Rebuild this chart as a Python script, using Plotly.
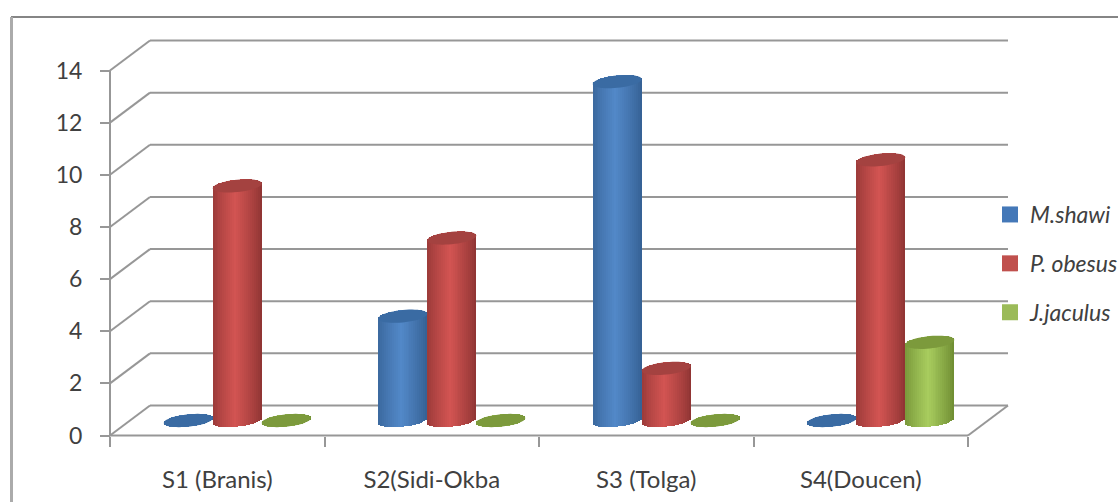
import math
import plotly.graph_objects as go

# Rodent counts per site
sites = ["S1 (Branis)", "S2(Sidi-Okba", "S3 (Tolga)", "S4(Doucen)"]
m_shawi = [0, 4, 13, 0]
p_obesus = [9, 7, 2, 10]
j_jaculus = [0, 0, 0, 3]
y_ticks = [0, 2, 4, 6, 8, 10, 12, 14]

series = [
    ("M.shawi", m_shawi, "#4478b8", (0x34, 0x5f, 0x92), (0x52, 0x88, 0xc8), "#3a6ba3"),
    ("P. obesus", p_obesus, "#c0504d", (0x8c, 0x33, 0x32), (0xd2, 0x54, 0x52), "#a44240"),
    ("J.jaculus", j_jaculus, "#9bbb59", (0x6c, 0x8a, 0x30), (0xa8, 0xcc, 0x5e), "#7c9a3c"),
]

# Pseudo-3D geometry, in axis units
PX_X, PX_Y = 214.5, 26.07
DEPTH_X, DEPTH_Y = 40 / PX_X, 30 / PX_Y
BAR_W = 49 / PX_X
CAP_B = 6.2 / PX_Y
CAP_TILT = 2.4 / PX_Y
STRIPS = 25
GRID = "#979797"
TEXT = "#404040"
FONT = "Lato"


def mix(c0, c1, t):
    return "rgb(%d,%d,%d)" % tuple(round(a + (b - a) * t) for a, b in zip(c0, c1))


def cap_path(cx, cy):
    pts = []
    for i in range(48):
        th = 2 * math.pi * i / 48
        c, s = math.cos(th), math.sin(th)
        pts.append((cx + BAR_W / 2 * c, cy + CAP_B * s + CAP_TILT * c))
    return "M" + "L".join(f"{x:.4f},{y:.4f}" for x, y in pts) + "Z"


fig = go.Figure()
shapes = []

# Back wall gridlines and their side-wall diagonals
x_left, x_right = -0.5, len(sites) - 0.5
for v in y_ticks:
    shapes.append(dict(type="line", layer="below", xref="x", yref="y",
                       x0=x_left, y0=v, x1=x_left + DEPTH_X, y1=v + DEPTH_Y,
                       line=dict(color=GRID, width=2)))
    shapes.append(dict(type="line", layer="below", xref="x", yref="y",
                       x0=x_left + DEPTH_X, y0=v + DEPTH_Y, x1=x_right + DEPTH_X, y1=v + DEPTH_Y,
                       line=dict(color=GRID, width=2)))

# Floor front edge, right edge and vertical axis line
shapes.append(dict(type="line", layer="below", xref="x", yref="y",
                   x0=x_left, y0=0, x1=x_right, y1=0, line=dict(color=GRID, width=2)))
shapes.append(dict(type="line", layer="below", xref="x", yref="y",
                   x0=x_right, y0=0, x1=x_right + DEPTH_X, y1=DEPTH_Y, line=dict(color=GRID, width=2)))
shapes.append(dict(type="line", layer="below", xref="x", yref="y",
                   x0=x_left, y0=0, x1=x_left, y1=y_ticks[-1], line=dict(color=GRID, width=2)))

# Outer chart frame
shapes.append(dict(type="line", xref="paper", yref="paper", layer="below",
                   x0=11 / 1118, x1=1, y0=1 - 17 / 502, y1=1 - 17 / 502,
                   line=dict(color="#858585", width=2)))
shapes.append(dict(type="line", xref="paper", yref="paper", layer="below",
                   x0=11.5 / 1118, x1=11.5 / 1118, y0=0, y1=1 - 17 / 502,
                   line=dict(color="#ababab", width=3)))

# Each cylinder is a row of narrow shaded bars closed by an elliptical cap
strip_w = BAR_W / STRIPS
for s_idx, (name, vals, swatch, edge, mid, cap) in enumerate(series):
    for k in range(STRIPS):
        u = -1 + (2 * k + 1) / STRIPS
        arc = math.sqrt(max(0.0, 1 - u * u))
        t = max(0.0, 1 - abs(u + 0.08) / 1.08) ** 0.8
        xs, bases, heights = [], [], []
        for c_idx, v in enumerate(vals):
            cx = c_idx + DEPTH_X / 2 + (s_idx - 1) * BAR_W
            floor_y = DEPTH_Y / 2 + CAP_TILT * u
            xs.append(cx + u * BAR_W / 2)
            bases.append(floor_y - CAP_B * arc)
            heights.append(v + 2 * CAP_B * arc)
        fig.add_trace(go.Bar(x=xs, y=heights, base=bases, width=strip_w * 1.15,
                             marker=dict(color=mix(edge, mid, t), line=dict(width=0)),
                             showlegend=False, hoverinfo="skip"))
    for c_idx, v in enumerate(vals):
        cx = c_idx + DEPTH_X / 2 + (s_idx - 1) * BAR_W
        shapes.append(dict(type="path", layer="above", xref="x", yref="y",
                           path=cap_path(cx, DEPTH_Y / 2 + v),
                           fillcolor=cap, line=dict(width=0)))

# Legend entries
for name, vals, swatch, edge, mid, cap in series:
    fig.add_trace(go.Scatter(x=[None], y=[None], mode="markers", name=name, legendgroup=name,
                             marker=dict(symbol="square", size=16, color=swatch)))

fig.update_layout(
    width=1118, height=502,
    margin=dict(l=0, r=0, t=0, b=0, autoexpand=False),
    paper_bgcolor="white", plot_bgcolor="white",
    barmode="overlay", bargap=0,
    shapes=shapes,
    showlegend=True,
    legend=dict(x=(1010 - 20) / 1118, y=1 - 193 / 502, xanchor="left", yanchor="top",
                font=dict(family=FONT, size=23, color=TEXT, style="italic"),
                itemsizing="trace", tracegroupgap=16, bgcolor="rgba(0,0,0,0)",
                borderwidth=0),
    xaxis=dict(type="linear",
               range=[-217.25 / PX_X, (1118 - 217.25) / PX_X],
               domain=[0, 1], anchor="free", position=66 / 502,
               showgrid=False, zeroline=False, showline=False,
               tickmode="array", tickvals=list(range(len(sites))), ticktext=sites,
               ticks="", ticklabelstandoff=27,
               tickfont=dict(family=FONT, size=24, color=TEXT),
               minor=dict(ticks="outside", ticklen=10, tickwidth=2, tickcolor=GRID,
                          tickmode="array",
                          tickvals=[i - 0.5 for i in range(len(sites) + 1)], showgrid=False)),
    yaxis=dict(type="linear",
               range=[-66.5 / PX_Y, 435.5 / PX_Y],
               domain=[0, 1], anchor="free", position=110 / 1118,
               showgrid=False, zeroline=False, showline=False,
               tickmode="array", tickvals=y_ticks,
               ticks="outside", ticklen=10, tickwidth=2, tickcolor=GRID,
               ticklabelstandoff=13,
               tickfont=dict(family=FONT, size=23, color=TEXT)),
)

fig.write_html("out.html", config=dict(displayModeBar=False))
